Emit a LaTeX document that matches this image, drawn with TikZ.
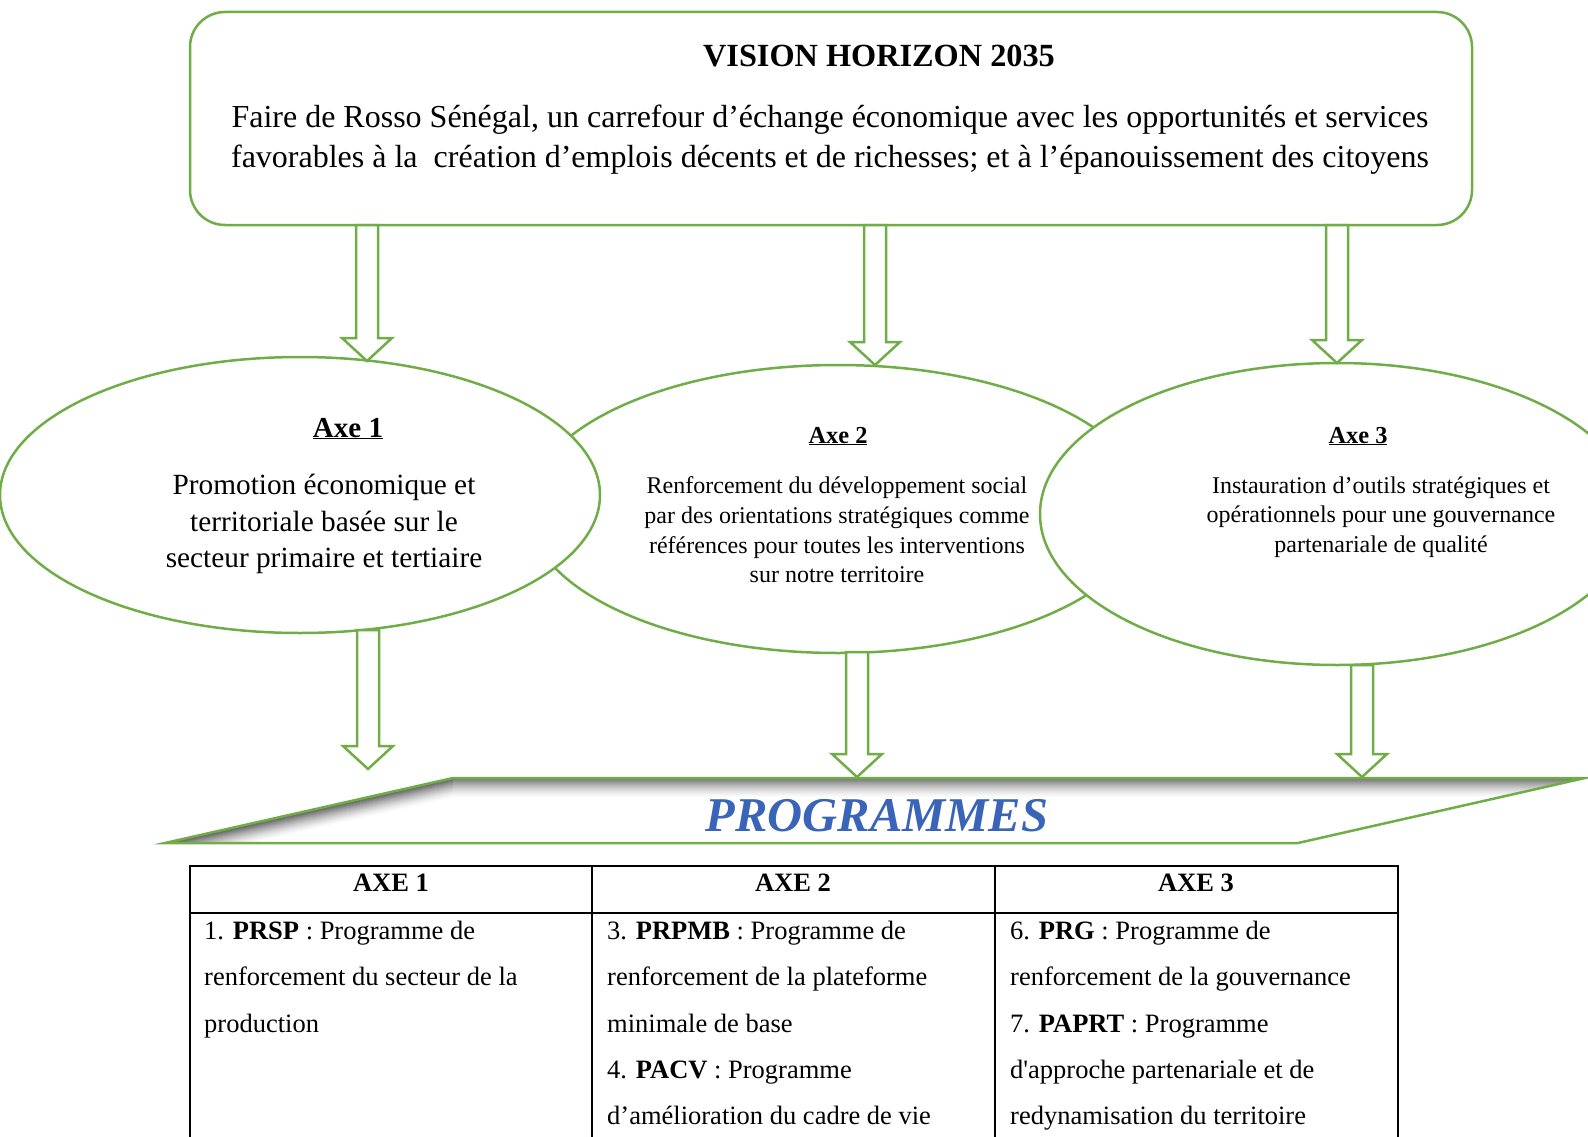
\documentclass[tikz,border=0pt]{standalone}
\usepackage{fontspec}
\setmainfont{Liberation Serif}
\newfontfamily\straightfont{Liberation Serif}[Ligatures=TeXOff]
\usetikzlibrary{positioning}
\usetikzlibrary{calc}
\usetikzlibrary{shapes.geometric}

\definecolor{axegreen}{RGB}{112,173,71}
\definecolor{progblue}{RGB}{58,100,184}

% hollow block arrow from #1 down to #2
\newcommand{\hollowarrow}[2]{%
  \draw[arrowline] let \p1=(#1), \p2=(#2) in
    ({\x1-11pt},\y1) -- ({\x1-11pt},{\y2+23pt}) -- ({\x1-25pt},{\y2+23pt}) -- (\x1,\y2)
    -- ({\x1+25pt},{\y2+23pt}) -- ({\x1+11pt},{\y2+23pt}) -- ({\x1+11pt},\y1) -- cycle;}

\begin{document}
\begin{tikzpicture}[x=1pt, y=-1pt,
                          visionbox/.style={rectangle, draw=axegreen, line width=2.5pt, rounded corners=35pt, fill=white, inner sep=0pt},
                          axenode/.style={ellipse, draw=axegreen, line width=2.5pt, fill=white, inner sep=0pt},
                          arrowline/.style={draw=axegreen, line width=2.5pt, fill=white, line join=miter},
                          tableline/.style={draw=black, line width=1.6pt},
                          cellhead/.style={font=\fontsize{26.5}{32}\selectfont\bfseries},
                          celltext/.style={font=\fontsize{26.5}{46.3}\selectfont, align=left, anchor=north west, inner sep=0pt},
                      ]
                      \useasboundingbox (0,0) rectangle (1588,1137);
                      \clip (0,0) rectangle (1588,1137);

                      % Vision
                      \node[visionbox, minimum width=1282pt, minimum height=213pt] (vision) at (831,118.5) {};
                      \node[font=\fontsize{32.3}{36}\selectfont\bfseries] (visiontitle) at (879,56) {VISION HORIZON 2035};
                      \node[font=\fontsize{32}{40}\selectfont, align=center] (visiontext) at (830,140)
                        {Faire de Rosso Sénégal, un carrefour d’échange économique avec les opportunités et services\\
                         favorables à la \ création d’emplois décents et de richesses; et à l’épanouissement des citoyens};

                      % Axes
                      \node[axenode, minimum width=620pt, minimum height=288pt] (axe2) at (838,509) {};
                      \node[axenode, minimum width=600pt, minimum height=276pt] (axe1) at (300,495) {};
                      \node[axenode, minimum width=594pt, minimum height=302pt] (axe3) at (1337,514) {};

                      \node[font=\fontsize{29}{34}\selectfont, anchor=base] (axe1title) at (348,437) {\underline{\textbf{Axe 1}}};
                      \node[font=\fontsize{29.3}{36.5}\selectfont, align=center] (axe1text) at (324,524)
                        {Promotion économique et\\ territoriale basée sur le\\ secteur primaire et tertiaire};
                      \node[font=\fontsize{24.4}{29}\selectfont, anchor=base] (axe2title) at (838,443) {\underline{\textbf{Axe 2}}};
                      \node[font=\fontsize{24}{29.6}\selectfont, align=center] (axe2text) at (837,530)
                        {Renforcement du développement social\\ par des orientations stratégiques comme\\ références pour toutes les interventions\\ sur notre territoire};
                      \node[font=\fontsize{24.4}{29}\selectfont, anchor=base] (axe3title) at (1358,443) {\underline{\textbf{Axe 3}}};
                      \node[font=\fontsize{24}{29.6}\selectfont, align=center] (axe3text) at (1381,517)
                        {Instauration d’outils stratégiques et\\ opérationnels pour une gouvernance\\ partenariale de qualité};

                      % Programmes banner
                      \begin{scope}
                        \clip (165,843) -- (453,778) -- (1585,778) -- (1298,843) -- cycle;
                        \foreach \k [evaluate=\k as \pc using {64*(1-\k/20)^1.5}] in {20,...,0}
                          \draw[line width=1.4pt, black!\pc] (100,{858+\k}) -- (453,{778+\k}) -- (1700,{778+\k});
                      \end{scope}
                      \draw[axegreen, line width=2.5pt, line join=miter] (165,843) -- (453,778) -- (1585,778) -- (1298,843) -- cycle;
                      \node[font=\fontsize{48.5}{56}\selectfont\bfseries\itshape, text=progblue] (programmes) at (877,816) {PROGRAMMES};

                      % Arrow ends
                      \coordinate (v1) at (367,225);
                      \coordinate (v2) at (875,225);
                      \coordinate (v3) at (1337,225);
                      \coordinate (t1) at (367,361);
                      \coordinate (t2) at (875,365);
                      \coordinate (t3) at (1337,363);
                      \coordinate (b1) at (368,630);
                      \coordinate (b2) at (857,652);
                      \coordinate (b3) at (1362,665);
                      \coordinate (p1) at (368,769);
                      \coordinate (p2) at (857,777);
                      \coordinate (p3) at (1362,777);

                      % Arrows
                      \hollowarrow{v1}{t1}
                      \hollowarrow{v2}{t2}
                      \hollowarrow{v3}{t3}
                      \hollowarrow{b1}{p1}
                      \hollowarrow{b2}{p2}
                      \hollowarrow{b3}{p3}

                      % Table
                      \draw[tableline] (190,1150) -- (190,866) -- (1398,866) -- (1398,1150);
                      \draw[tableline] (190,913) -- (1398,913);
                      \draw[tableline] (592,866) -- (592,1150);
                      \draw[tableline] (995,866) -- (995,1150);

                      \node[cellhead] (head1) at (391,883) {AXE 1};
                      \node[cellhead] (head2) at (793,883) {AXE 2};
                      \node[cellhead] (head3) at (1196,883) {AXE 3};

                      \node[celltext] (cell1) at (204,921)
                        {1. \textbf{PRSP} : Programme de\\ renforcement du secteur de la\\ production};
                      \node[celltext] (cell2) at (607,921)
                        {3. \textbf{PRPMB} : Programme de\\ renforcement de la plateforme\\ minimale de base\\ 4. \textbf{PACV} : Programme\\ d’amélioration du cadre de vie};
                      \node[celltext] (cell3) at (1010,921)
                        {6. \textbf{PRG} : Programme de\\ renforcement de la gouvernance\\ 7. \textbf{PAPRT} : Programme\\ d{\straightfont '}approche partenariale et de\\ redynamisation du territoire};
                  \end{tikzpicture}
\end{document}
